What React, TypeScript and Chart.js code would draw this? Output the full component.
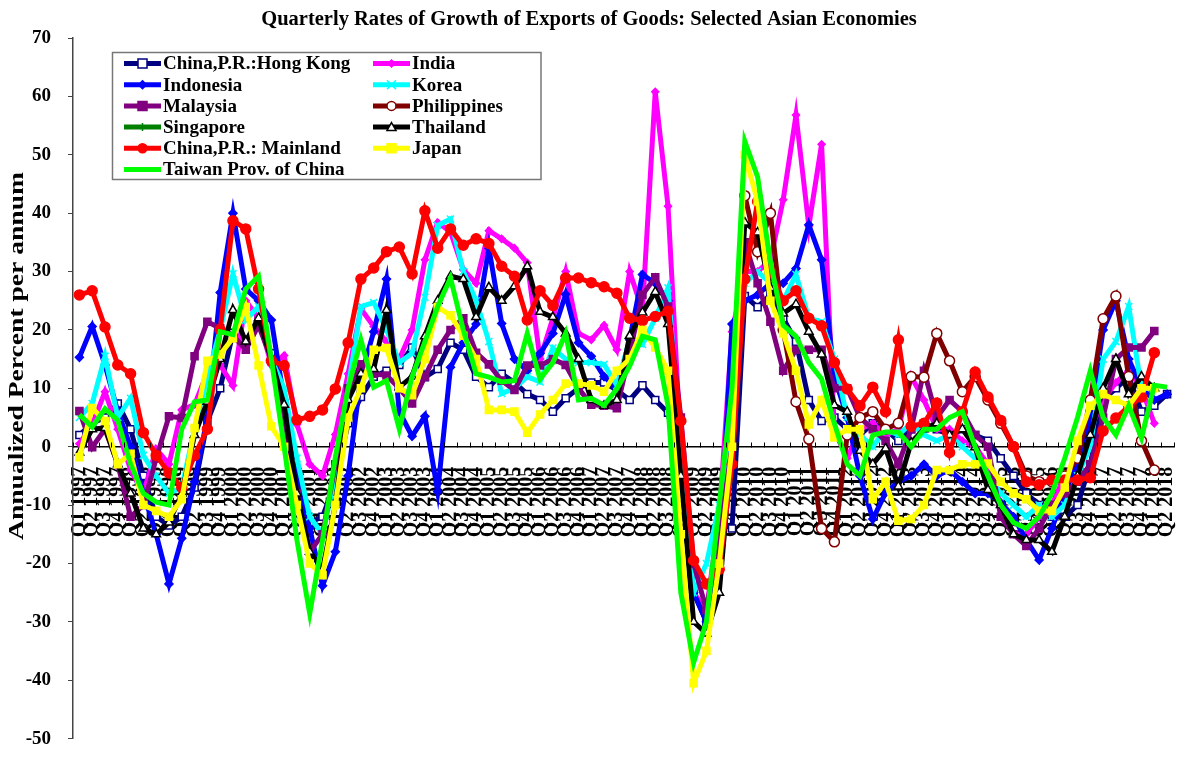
import React, { useEffect, useRef } from 'react';
import { Chart, registerables } from 'chart.js';
Chart.register(...registerables);

const years = [1997,1998,1999,2000,2001,2002,2003,2004,2005,2006,2007,2008,2009,2010,2011,2012,2013,2014,2015,2016,2017,2018];
const quarterNames = ['Q1','Q2','Q3','Q4'];
const quarterLabels: string[] = [];
years.forEach(y => quarterNames.forEach(q => quarterLabels.push(q + ' ' + y)));
const categories = quarterLabels.slice(0, 86);

const hongKong = [2,4,5,7.4, 3,-5,-12,-13.5, -12,-7,4.3,10, 19.5,18,22,16, 7,-5,-13,-12, -6,4,8.5,12, 13,14,17,11.9, 13.3,17.8,16.6,12, 10.2,12.5,11,9, 8,6,8.3,10, 11,11,9.7,8, 10.5,8,5.8,-5, -25,-30,-13,-14, 25.8,23.9,26,22, 18,8,4.4,5, 3,2,4,3, 1,3,4,3, 2,3,2,1, -2,-5,-8,-10, -12,-12,-10,-3, 8,10,12,6, 7,9];
const india = [0.5,3.8,9.4,3, -4,-8,-0.4,-3, 6.3,7.2,12.7,14, 10.5,25,22,14, 15.6,3.8,-3,-5, 2.1,12.5,23.6,20.6, 18,15,20,32, 38.4,36.8,30.3,28, 37,35.6,34,31.5, 15,22,30,19.4, 18.3,20.8,16.6,30, 23.3,60.8,41.2,0, -25,-28,-12,19.7, 30,30,32,42.3, 56.8,37.8,51.8,2.7, -2,3,4,2, 3,12,8,3, 3,1,0,-3, -10,-15,-15,-12, -10,-5,-2,3, 8,11,13,10, 4,null];
const indonesia = [15.3,20.6,14,6, 0,-8,-15,-23.5, -15.7,-6,5,26.4, 40,27,25,21.7, 8,-5,-14,-23.8, -18,-5,12,19.7, 28.7,6,1.8,5.2, -7.7,13.6,17.8,21, 34,21.1,15,13, 16,19.4,26.1,17.8, 15.5,12,10,18.3, 29.5,28,25,-5, -25,-30,-20,21, 25,26,28,28, 30.5,38,32,12, 5,-5,-12.4,-7.9, -6,-5,-3,-5, -4,-6,-8,-8, -9.6,-12,-16,-19.4, -14,-8,-3,5, 20,25,15,10, 8,9];
const korea = [5,7.4,15.5,5, 8.3,-1.5,-5,-8, -7,3,12,20, 29.6,21.7,24,15, 10,-2,-12,-15, -5,10,24,24.7, 20,14.4,16,25.6, 37.9,39,30,25, 18,9.1,10,12, 11.1,16.9,15,14.4, 14.4,14.1,10.5,18.3, 17.5,22,27.2,0, -25,-20,-10,5, 28,30,28,25, 29.5,22,21.4,15, 5,2,0,3, 2,4,2,1, 2,0,-2,-5, -8,-10,-12,-10, -12,-10,-5,0, 15,18,24,10, 10,null];
const malaysia = [6.1,-0.1,3,-3, -12,-10,-2,5.2, 4.9,15.5,21.4,20.3, 19,16.6,20.8,15, 5,-8,-18,-15, -3,10,14.1,12.5, 12.2,10,7.4,12, 16.6,20,22,16.1, 14.1,11.3,9.7,13.9, 13.9,15,14,10, 7.2,7,6.6,16, 26,29,24,5, -20,-28,-15,0, 35,28,21.4,13, 16.6,16.6,16.6,10, 10,5,3,1, -3,3,13,5, 8,6,2,0, -12,-15,-17,-14, -10,-8,-6,-3, 5,15,17,17, 19.8,null];
const philippines = [null,null,null,null, null,null,null,null, null,null,null,null, null,null,null,null, null,null,null,null, null,null,null,null, null,null,null,null, null,null,null,null, null,null,null,null, null,null,null,null, null,null,null,null, null,null,null,null, null,null,null,null, 43,33.4,40,20, 7.7,1.3,-14,-16.3, 2,5,6,3, 4,12,11.9,19.4, 14.7,9.4,12,8, 4,0,-5,-6, -6,-5,-2,8, 21.9,25.8,12,1, -4,null];
const singapore = categories.map(() => null);
const thailand = [-1,3,3.2,-3, -8,-14,-15,-13, -8,2,7.7,15, 23.4,18,22,15, 7.2,-8,-18,-21, -10,8,12.5,13.3, 23.4,10.2,12,18.9, 25,29.2,28.7,22.2, 27.3,25,27.5,30.9, 23.1,22.2,19.4,15, 8,7,8,19, 23,26.5,21,-5, -30,-32,-25,0, 38.4,36.7,27.2,22.8, 24.4,19.7,15.8,7.1, 6,-0.7,-3,-0.3, -6.8,0.7,3,4, 2,3,-0.1,-7.4, -10,-15,-16,-16, -18,-12,-5,2, 10,15,9,12, 10,null];
const mainland = [26,26.7,20.5,14, 12.5,2.4,-1.5,-4.5, -7,-1.5,3,20, 38.7,37.3,27,14.7, 13.9,4.6,5.2,6.3, 9.9,17.8,28.7,30.6, 33.4,34.2,29.6,40.4, 34,37.3,34.5,35.6, 34.8,30.9,29.2,21.7, 26.7,24.2,28.9,28.9, 28.1,27.4,26.3,22, 21.6,22.3,23.2,4.4, -19.5,-23.5,-21,-3, 28.7,42,30,25, 26.7,22,20.7,14.4, 9.9,7,10.2,6, 18.3,3.5,4,7.5, -1,6,12.8,8.5, 4.5,0,-6,-6.5, -5.7,-5.7,-5.7,-5.3, 2.7,4.9,6.9,8.5, 16.1,null];
const japan = [-1.8,6.6,4.4,-3, -1.2,-10,-11,-12, -9,3.2,14.7,15.8, 18.6,23.9,13.9,3.5, 0,-10,-20,-22, -10,5,10,16.6, 16.9,10,8.8,15, 23.9,22.5,19,15, 6.3,6.3,6,2.4, 5.5,8,10.8,10.8, 10.5,9.4,13,15, 20,17,13,-15, -40.5,-35,-20,0, 50,42,25,19.4, 13,3.8,8,1.6, 3,3,-9,-6, -12.7,-12.4,-10,-4, -4,-3,-3,-2.9, -6,-8,-9,-11, -11,-7,1,7, 9,8,7,10, 10,null];
const taiwan = [5.5,3.4,6.5,4.5, -3,-8,-9.5,-10, 3,7.7,8,19.7, 19.2,27,29.2,15, 0,-16,-28.6,-16, -1.8,10,18.3,10.2, 11.3,3,12,18, 24,28.9,20,12.5, 11.9,11.1,11.3,19.4, 11.6,14.4,19.4,8, 8.3,7.1,9.9,13.8, 18.9,18.3,7,-25, -37,-30,-10,10, 52.3,46.2,31.7,20.8, 18.9,14.4,11.6,4, -3,-5,2,2.5, 2.5,0,3,3, 5,6,0,-5, -10,-13,-14,-12, -8,-2,5,13, 5,2,7,1.5, 10.5,10.2];

const seriesNames = ['China,P.R.:Hong Kong','India','Indonesia','Korea','Malaysia','Philippines','Singapore','Thailand','China,P.R.: Mainland','Japan','Taiwan Prov. of China'];
const seriesData = [hongKong, india, indonesia, korea, malaysia, philippines, singapore, thailand, mainland, japan, taiwan];
const seriesColors = ['#000080','#FF00FF','#0000FF','#00FFFF','#800080','#800000','#008000','#000000','#FF0000','#FFFF00','#00FF00'];
const markerStyles = ['rect','rectRot','rectRot','crossRot','rect','circle','cross','triangle','circle','rect','none'];
const markerFills = ['#FFFFFF','#FF00FF','#0000FF','#00FFFF','#800080','#FFFFFF','#008000','#FFFFFF','#FF0000','#FFFF00','#00FF00'];
const markerRadius = [5,3.5,4,5,5,5,4,5,5,5,0];

const TITLE = 'Quarterly Rates of Growth of Exports of Goods: Selected Asian Economies';
const Y_TITLE = 'Annualized Percent per annum';
const SERIF = "'Liberation Serif', 'Times New Roman', serif";

function drawMarker(ctx: CanvasRenderingContext2D, style: string, x: number, y: number, r: number, fill: string, stroke: string) {
  if (style === 'none' || r <= 0) return;
  ctx.save();
  ctx.fillStyle = fill;
  ctx.strokeStyle = stroke;
  ctx.lineWidth = 1.5;
  ctx.beginPath();
  if (style === 'rect') {
    ctx.rect(x - r, y - r, 2 * r, 2 * r);
    ctx.fill(); ctx.stroke();
  } else if (style === 'rectRot') {
    ctx.moveTo(x, y - r); ctx.lineTo(x + r, y); ctx.lineTo(x, y + r); ctx.lineTo(x - r, y); ctx.closePath();
    ctx.fill(); ctx.stroke();
  } else if (style === 'circle') {
    ctx.arc(x, y, r, 0, Math.PI * 2);
    ctx.fill(); ctx.stroke();
  } else if (style === 'triangle') {
    ctx.moveTo(x, y - r); ctx.lineTo(x + r, y + r * 0.75); ctx.lineTo(x - r, y + r * 0.75); ctx.closePath();
    ctx.fill(); ctx.stroke();
  } else if (style === 'crossRot') {
    ctx.moveTo(x - r, y - r); ctx.lineTo(x + r, y + r); ctx.moveTo(x + r, y - r); ctx.lineTo(x - r, y + r);
    ctx.stroke();
  } else if (style === 'cross') {
    ctx.moveTo(x - r, y); ctx.lineTo(x + r, y); ctx.moveTo(x, y - r); ctx.lineTo(x, y + r);
    ctx.stroke();
  }
  ctx.restore();
}

const legendPlugin = {
  id: 'boxLegend',
  afterDraw(chart: any) {
    const ctx: CanvasRenderingContext2D = chart.ctx;
    const left = 112.5, top = 52.5, right = 541, bottom = 179.5;
    ctx.save();
    ctx.fillStyle = '#FFFFFF';
    ctx.fillRect(left, top, right - left, bottom - top);
    ctx.strokeStyle = '#777777';
    ctx.lineWidth = 1.5;
    ctx.strokeRect(left, top, right - left, bottom - top);
    ctx.font = 'bold 19px ' + SERIF;
    ctx.textBaseline = 'middle';
    ctx.textAlign = 'left';
    seriesNames.forEach((name, i) => {
      const col = i % 2;
      const row = Math.floor(i / 2);
      const y = 63.5 + row * 21.2;
      const x0 = col === 0 ? 124 : 373;
      const x1 = x0 + 37;
      ctx.strokeStyle = seriesColors[i];
      ctx.lineWidth = 5;
      ctx.beginPath(); ctx.moveTo(x0, y); ctx.lineTo(x1, y); ctx.stroke();
      drawMarker(ctx, markerStyles[i], (x0 + x1) / 2, y, Math.min(markerRadius[i], 4.5), markerFills[i], seriesColors[i]);
      ctx.fillStyle = '#000000';
      ctx.fillText(name, x1 + 2, y + 1);
    });
    ctx.restore();
  }
};

const axisExtrasPlugin = {
  id: 'axisExtras',
  afterDatasetsDraw(chart: any) {
    const ctx: CanvasRenderingContext2D = chart.ctx;
    const xs = chart.scales.x;
    const ys = chart.scales.y;
    const y0 = Math.round(ys.getPixelForValue(0)) + 0.5;
    const n = categories.length;
    const step = (xs.right - xs.left) / n;
    ctx.save();
    ctx.strokeStyle = '#000000';
    ctx.lineWidth = 1;
    ctx.beginPath();
    for (let i = 0; i <= n; i++) {
      const x = Math.round(xs.left + i * step) + 0.5;
      ctx.moveTo(x, y0);
      ctx.lineTo(x, y0 - 5);
    }
    ctx.stroke();
    ctx.restore();
  },
  afterDraw(chart: any) {
    const ctx: CanvasRenderingContext2D = chart.ctx;
    ctx.save();
    ctx.font = 'bold 20px ' + SERIF;
    ctx.fillStyle = '#000000';
    ctx.textAlign = 'center';
    ctx.textBaseline = 'middle';
    const w = ctx.measureText(Y_TITLE).width;
    const target = 368;
    ctx.translate(17.5, 356);
    ctx.rotate(-Math.PI / 2);
    ctx.scale(target / w, 1);
    ctx.fillText(Y_TITLE, 0, 0);
    ctx.restore();
  }
};

export default function App() {
  const ref = useRef<HTMLCanvasElement | null>(null);
  useEffect(() => {
    if (!ref.current) return;
    const datasets = seriesNames.map((name, i) => ({
      label: name,
      data: seriesData[i],
      borderColor: seriesColors[i],
      backgroundColor: markerFills[i],
      borderWidth: 5,
      pointStyle: markerStyles[i] === 'none' ? false : markerStyles[i],
      pointRadius: markerRadius[i],
      pointBorderWidth: 1.5,
      pointBorderColor: seriesColors[i],
      pointBackgroundColor: markerFills[i],
      spanGaps: false,
      tension: 0,
      order: -i,
    }));
    const chart = new Chart(ref.current, {
      type: 'line',
      data: { labels: categories, datasets: datasets as any },
      plugins: [axisExtrasPlugin, legendPlugin],
      options: {
        animation: false,
        responsive: false,
        maintainAspectRatio: false,
        layout: { padding: { left: 0, right: 2, top: 0, bottom: 12 } },
        plugins: {
          legend: { display: false },
          tooltip: { enabled: false },
          title: {
            display: true,
            text: TITLE,
            color: '#000000',
            font: { family: SERIF, size: 20.5, weight: 'bold', lineHeight: 1.2 },
            padding: { top: 7, bottom: 6.4 },
          },
        },
        scales: {
          x: {
            type: 'category',
            offset: true,
            position: { y: 0 } as any,
            grid: { display: true, drawOnChartArea: false, drawTicks: false, color: '#000000' },
            border: { display: true, color: '#000000', width: 1.5 },
            ticks: {
              autoSkip: false,
              maxRotation: 90,
              minRotation: 90,
              color: '#000000',
              padding: 20,
              font: { family: SERIF, size: 20, weight: 'bold' },
            },
            afterFit: (s: any) => { s.height = 0; s.paddingLeft = 0; s.paddingRight = 0; },
          },
          y: {
            min: -50,
            max: 70,
            ticks: { stepSize: 10, color: '#000000', padding: 17, font: { family: SERIF, size: 19, weight: 'bold' } },
            grid: { display: true, drawOnChartArea: false, drawTicks: true, tickLength: 5, color: '#444444' },
            border: { display: true, color: '#444444', width: 1.5 },
            title: { display: false, text: Y_TITLE },
            afterFit: (s: any) => { s.width = 73; },
          },
        },
      } as any,
    });
    return () => chart.destroy();
  }, []);
  return (
    <div style={{ position: 'fixed', left: 0, top: 0, width: 1180, height: 767, background: '#fff' }}>
      <canvas ref={ref} width={1180} height={767} style={{ width: 1180, height: 767 }} />
    </div>
  );
}
